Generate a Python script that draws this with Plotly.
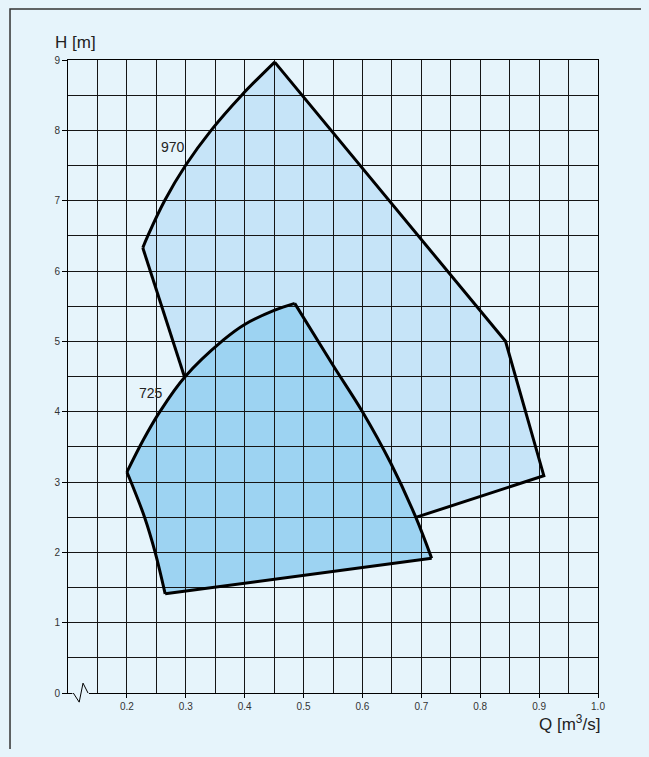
import plotly.graph_objects as go

# ---- data (Q in m3/s, H in m) ----
# 970 rpm operating field, visible boundary pieces
q_970_left = [0.298, 0.227]
h_970_left = [4.49, 6.33]
q_970_arc = [0.227, 0.2355, 0.264, 0.2995, 0.343, 0.395, 0.451]
h_970_arc = [6.33, 6.50, 7.00, 7.50, 8.00, 8.50, 8.97]
q_970_right = [0.451, 0.843, 0.908, 0.692]
h_970_right = [8.97, 5.00, 3.09, 2.50]

# 725 rpm operating field, boundary pieces (closed)
q_725_upper = [0.200, 0.228, 0.256, 0.298, 0.364, 0.400, 0.450, 0.485]
h_725_upper = [3.14, 3.60, 4.00, 4.49, 5.02, 5.24, 5.44, 5.54]
q_725_right = [0.485, 0.550, 0.600, 0.648, 0.690, 0.7175]
h_725_right = [5.54, 4.66, 4.00, 3.27, 2.51, 1.915]
q_725_bottom = [0.7175, 0.265]
h_725_bottom = [1.915, 1.41]
q_725_lower = [0.265, 0.248, 0.230, 0.207, 0.200]
h_725_lower = [1.41, 2.00, 2.50, 3.00, 3.14]

speed_labels = ["970", "725"]
label_q = [0.278, 0.241]
label_h = [7.76, 4.27]

q_ticks = [0.2, 0.3, 0.4, 0.5, 0.6, 0.7, 0.8, 0.9, 1.0]
q_tick_labels = ["0.2", "0.3", "0.4", "0.5", "0.6", "0.7", "0.8", "0.9", "1.0"]
q_minor = [0.15, 0.25, 0.35, 0.45, 0.55, 0.65, 0.75, 0.85, 0.95]
h_ticks = [0, 1, 2, 3, 4, 5, 6, 7, 8, 9]
h_tick_labels = ["0", "1", "2", "3", "4", "5", "6", "7", "8", "9"]
h_minor = [0.5, 1.5, 2.5, 3.5, 4.5, 5.5, 6.5, 7.5, 8.5]

q_range = [0.1, 1.0]
h_range = [0, 9]

# ---- styles ----
BG = "#e6f4fb"
FILL_970 = "#c6e4f8"
FILL_725 = "#9dd3f2"
GRID = "#151515"
FONT = "Liberation Sans, Arial, sans-serif"


def poly_path(xs, ys):
    pts = [f"{x},{y}" for x, y in zip(xs, ys)]
    return "M " + " L ".join(pts) + " Z"


fig = go.Figure()

pieces = [
    (q_970_left, h_970_left, "linear"),
    (q_970_arc, h_970_arc, "spline"),
    (q_970_right, h_970_right, "linear"),
    (q_725_upper, h_725_upper, "spline"),
    (q_725_right, h_725_right, "spline"),
    (q_725_bottom, h_725_bottom, "linear"),
    (q_725_lower, h_725_lower, "spline"),
]
for qs, hs, shp in pieces:
    fig.add_trace(go.Scatter(x=qs, y=hs, mode="lines",
                             line=dict(color="black", width=3, shape=shp, smoothing=1.0),
                             hoverinfo="skip", showlegend=False))

q_970_all = q_970_left + q_970_arc[1:] + q_970_right[1:]
h_970_all = h_970_left + h_970_arc[1:] + h_970_right[1:]
q_725_all = q_725_upper + q_725_right[1:] + q_725_bottom[1:] + q_725_lower[1:]
h_725_all = h_725_upper + h_725_right[1:] + h_725_bottom[1:] + h_725_lower[1:]

shapes = [
    # filled fields, drawn below the gridlines
    dict(type="path", path=poly_path(q_970_all, h_970_all), xref="x", yref="y",
         fillcolor=FILL_970, line=dict(width=0), layer="below"),
    dict(type="path", path=poly_path(q_725_all, h_725_all), xref="x", yref="y",
         fillcolor=FILL_725, line=dict(width=0), layer="below"),
]


# axis break symbol on the Q axis (domain coordinates)
def dx(q):
    return (q - q_range[0]) / (q_range[1] - q_range[0])


def dy(h):
    return (h - h_range[0]) / (h_range[1] - h_range[0])


zz_q = [0.109, 0.119, 0.1255, 0.134]
zz_h = [0.0, -0.13, 0.14, 0.0]
shapes.append(dict(type="line", xref="x domain", yref="y domain",
                   x0=dx(0.1075), x1=dx(0.1355), y0=0, y1=0,
                   line=dict(color=BG, width=3), layer="above"))
shapes.append(dict(type="path", xref="x domain", yref="y domain",
                   path="M " + " L ".join(f"{dx(a)},{dy(b)}" for a, b in zip(zz_q, zz_h)),
                   line=dict(color="black", width=1), layer="above"))

# figure frame
shapes.append(dict(type="rect", xref="paper", yref="paper",
                   x0=-0.1094, x1=1.0925, y0=-0.2, y1=1.0806,
                   line=dict(color="#333333", width=1.5), layer="above"))

annotations = [
    dict(text=t, x=x, y=y, xref="x", yref="y", showarrow=False,
         font=dict(family=FONT, size=14, color="#222222"))
    for t, x, y in zip(speed_labels, label_q, label_h)
]
annotations.append(dict(text="H [m]", xref="paper", yref="paper", x=-0.0283, y=1.027,
                        xanchor="left", yanchor="middle", showarrow=False,
                        font=dict(family=FONT, size=17, color="#222222")))
annotations.append(dict(text="Q [m<sup>3</sup>/s]", xref="paper", yref="paper", x=1.007, y=-0.047,
                        xanchor="right", yanchor="middle", showarrow=False,
                        font=dict(family=FONT, size=17, color="#222222")))

# the page places the figure 8 px from the window's top-left corner
fig.update_layout(
    template="none",
    width=641, height=741,
    margin=dict(l=60, r=51, t=52, b=56, pad=0),
    paper_bgcolor=BG, plot_bgcolor=BG,
    shapes=shapes, annotations=annotations,
    font=dict(family=FONT, color="#333333", size=10),
    xaxis=dict(range=q_range, tickmode="array", tickvals=q_ticks, ticktext=q_tick_labels,
               ticks="outside", ticklen=4, tickcolor="black", tickwidth=1,
               showgrid=True, gridcolor=GRID, gridwidth=1,
               showline=True, linecolor="black", linewidth=1, mirror=True,
               zeroline=False, automargin=False,
               tickfont=dict(family=FONT, size=10, color="#333333"),
               minor=dict(tickmode="array", tickvals=q_minor, showgrid=True,
                          gridcolor=GRID, gridwidth=1, ticks="")),
    yaxis=dict(range=h_range, tickmode="array", tickvals=h_ticks, ticktext=h_tick_labels,
               ticks="outside", ticklen=5, tickcolor="black", tickwidth=1,
               showgrid=True, gridcolor=GRID, gridwidth=1,
               showline=True, linecolor="black", linewidth=1, mirror=True,
               zeroline=False, automargin=False,
               tickfont=dict(family=FONT, size=10, color="#333333"),
               minor=dict(tickmode="array", tickvals=h_minor, showgrid=True,
                          gridcolor=GRID, gridwidth=1, ticks="")),
)

fig.write_html("out.html",
               post_script="document.body.style.background='" + BG + "';")
